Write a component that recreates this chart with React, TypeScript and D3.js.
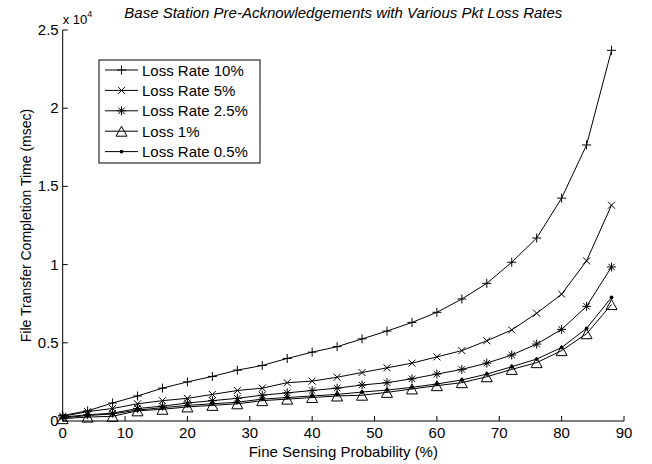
import React, { useEffect, useRef } from "react";
import * as d3 from "d3";

const probability = [0, 4, 8, 12, 16, 20, 24, 28, 32, 36, 40, 44, 48, 52, 56, 60, 64, 68, 72, 76, 80, 84, 88];
const lossRate10 = [350, 650, 1150, 1600, 2100, 2500, 2850, 3250, 3550, 4000, 4400, 4750, 5250, 5750, 6300, 6950, 7800, 8800, 10150, 11700, 14250, 17650, 23700];
const lossRate5 = [300, 600, 800, 1100, 1300, 1450, 1700, 1950, 2100, 2450, 2550, 2800, 3100, 3400, 3700, 4100, 4500, 5130, 5820, 6890, 8110, 10240, 13800];
const lossRate25 = [250, 400, 500, 800, 950, 1150, 1300, 1450, 1650, 1800, 1950, 2100, 2300, 2450, 2700, 3000, 3300, 3700, 4220, 4920, 5860, 7330, 9850];
const loss1 = [150, 250, 300, 650, 750, 900, 1000, 1100, 1300, 1400, 1500, 1600, 1650, 1830, 2050, 2260, 2450, 2830, 3300, 3730, 4500, 5580, 7450];
const lossRate05 = [200, 350, 450, 700, 850, 1000, 1100, 1200, 1400, 1500, 1600, 1700, 1850, 1980, 2150, 2370, 2620, 3000, 3470, 3960, 4700, 5920, 7900];

const seriesNames = ["Loss Rate 10%", "Loss Rate 5%", "Loss Rate 2.5%", "Loss 1%", "Loss Rate 0.5%"];
const seriesValues = [lossRate10, lossRate5, lossRate25, loss1, lossRate05];
const markerTypes = ["plus", "cross", "star", "triangle", "dot"];

const xTicks = [0, 10, 20, 30, 40, 50, 60, 70, 80, 90];
const yTicks = [0, 5000, 10000, 15000, 20000, 25000];
const yTickLabels = ["0", "0.5", "1", "1.5", "2", "2.5"];

const titleText = "Base Station Pre-Acknowledgements with Various Pkt Loss Rates";
const xLabel = "Fine Sensing Probability (%)";
const yLabel = "File Transfer Completion Time (msec)";

const W = 652, H = 464;
const left = 62.7, right = 624, top = 30, bottom = 421;
const FONT = "'Liberation Sans', Arial, Helvetica, sans-serif";

function markerPath(type: string): string {
  switch (type) {
    case "plus": return "M-4.5,0H4.5M0,-4.5V4.5";
    case "cross": return "M-3.5,-3.5L3.5,3.5M-3.5,3.5L3.5,-3.5";
    case "star": return "M-4.5,0H4.5M0,-4.5V4.5M-3.2,-3.2L3.2,3.2M-3.2,3.2L3.2,-3.2";
    case "triangle": return "M0,-5L5.5,5L-5.5,5Z";
    default: return "";
  }
}

export default function App() {
  const ref = useRef<SVGSVGElement>(null);
  useEffect(() => {
    const svg = d3.select(ref.current);
    svg.selectAll("*").remove();
    const x = d3.scaleLinear().domain([0, 90]).range([left, right]);
    const y = d3.scaleLinear().domain([0, 25000]).range([bottom, top]);

    const g = svg.append("g");

    // series
    const line = d3.line<number>().x((_, i) => x(probability[i])).y((d) => y(d));
    seriesValues.forEach((vals, si) => {
      g.append("path").attr("d", line(vals) as string).attr("fill", "none").attr("stroke", "#000").attr("stroke-width", 1);
      const type = markerTypes[si];
      vals.forEach((v, i) => {
        const px = x(probability[i]), py = y(v);
        if (type === "dot") {
          g.append("circle").attr("cx", px).attr("cy", py).attr("r", 1.9).attr("fill", "#000");
        } else {
          g.append("path").attr("d", markerPath(type)).attr("transform", `translate(${px},${py})`)
            .attr("fill", "none").attr("stroke", "#000").attr("stroke-width", 1);
        }
      });
    });

    // axes
    const ax = svg.append("g");
    ax.append("line").attr("x1", left).attr("x2", right).attr("y1", bottom).attr("y2", bottom).attr("stroke", "#000");
    ax.append("line").attr("x1", left).attr("x2", left).attr("y1", top).attr("y2", bottom).attr("stroke", "#000");
    xTicks.forEach((t) => {
      ax.append("line").attr("x1", x(t)).attr("x2", x(t)).attr("y1", bottom).attr("y2", bottom - 5).attr("stroke", "#000");
      ax.append("text").attr("x", x(t)).attr("y", bottom + 17).attr("text-anchor", "middle")
        .attr("font-family", FONT).attr("font-size", 15).text(String(t));
    });
    yTicks.forEach((t, i) => {
      ax.append("line").attr("x1", left).attr("x2", left + 5).attr("y1", y(t)).attr("y2", y(t)).attr("stroke", "#000");
      ax.append("text").attr("x", left - 4).attr("y", y(t) + 5).attr("text-anchor", "end")
        .attr("font-family", FONT).attr("font-size", 15).text(yTickLabels[i]);
    });
    // multiplier
    const mult = ax.append("text").attr("x", left).attr("y", 24).attr("font-family", FONT).attr("font-size", 13);
    mult.append("tspan").text("x 10");
    mult.append("tspan").attr("dy", -7).attr("font-size", 9).text("4");

    // labels
    svg.append("text").attr("x", (left + right) / 2).attr("y", 457).attr("text-anchor", "middle")
      .attr("font-family", FONT).attr("font-size", 15).text(xLabel);
    svg.append("text").attr("transform", `translate(31,${(top + bottom) / 2}) rotate(-90)`).attr("text-anchor", "middle")
      .attr("font-family", FONT).attr("font-size", 14).text(yLabel);
    svg.append("text").attr("x", (left + right) / 2).attr("y", 18).attr("text-anchor", "middle")
      .attr("font-family", FONT).attr("font-size", 15).attr("font-style", "italic").text(titleText);

    // legend
    const lg = svg.append("g");
    const lx = 99, ly = 60, lw = 161, lh = 103;
    lg.append("rect").attr("x", lx).attr("y", ly).attr("width", lw).attr("height", lh)
      .attr("fill", "#fff").attr("stroke", "#000").attr("stroke-width", 1);
    seriesNames.forEach((name, i) => {
      const cy = 70 + i * 20.4;
      lg.append("line").attr("x1", 105).attr("x2", 138).attr("y1", cy).attr("y2", cy).attr("stroke", "#000");
      const type = markerTypes[i];
      if (type === "dot") {
        lg.append("circle").attr("cx", 121.5).attr("cy", cy).attr("r", 1.9).attr("fill", "#000");
      } else {
        lg.append("path").attr("d", markerPath(type)).attr("transform", `translate(121.5,${cy})`)
          .attr("fill", "none").attr("stroke", "#000");
      }
      lg.append("text").attr("x", 142).attr("y", cy + 5.5).attr("font-family", FONT).attr("font-size", 15).text(name);
    });
  }, []);
  return (
    <svg ref={ref} width={W} height={H} style={{ position: "absolute", left: 0, top: 0, background: "#fff" }} />
  );
}
